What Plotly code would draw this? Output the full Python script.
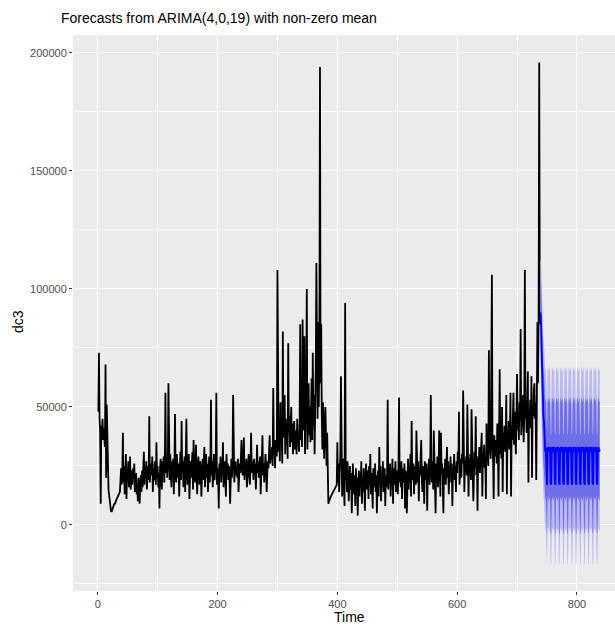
import plotly.graph_objects as go

# Observed series dc3 (values in thousands), t = 1..738
dc3_k = [
    48, 73, 45, 40, 9, 42, 38,
    45, 36, 41, 35, 33, 68, 20,
    51, 29, 27, 15, 12, 9, 7,
    6, 5.5, 6.5, 7, 7.5, 8.5, 9,
    9, 10, 10.5, 11, 12, 12, 12.5,
    13, 14, 19, 24, 17, 22, 39,
    18, 25, 13, 21, 30, 11, 24,
    19, 27, 16, 26, 29, 15, 20,
    23, 17, 24, 21, 26, 14, 19,
    22, 13, 16, 10, 20, 12, 9,
    18, 21, 14, 23, 16, 26, 31,
    17, 24, 20, 27, 15, 22, 25,
    19, 46, 18, 26, 23, 21, 29,
    14, 24, 19, 27, 22, 17, 35,
    20, 25, 16, 22, 7, 24, 28,
    21, 15, 27, 23, 29, 18, 26,
    56, 22, 29, 20, 25, 60, 24,
    19, 30, 23, 16, 27, 21, 28,
    13, 25, 47, 22, 18, 30, 24,
    20, 26, 12, 23, 31, 19, 44,
    22, 27, 16, 25, 29, 14, 24,
    45, 21, 17, 26, 30, 11, 23,
    27, 20, 24, 31, 15, 36, 22,
    18, 26, 34, 20, 13, 25, 29,
    22, 17, 27, 24, 12, 21, 28,
    19, 25, 33, 16, 23, 30, 20,
    26, 14, 22, 29, 18, 24, 53,
    21, 27, 16, 25, 30, 19, 23,
    28, 56, 17, 24, 21, 7, 26,
    22, 29, 18, 25, 23, 35, 16,
    24, 27, 20, 12, 30, 22, 26,
    19, 25, 21, 9, 23, 28, 20,
    26, 55, 22, 18, 24, 27, 21,
    25, 20, 28, 14, 23, 26, 22,
    29, 36, 24, 21, 27, 37, 19,
    25, 23, 28, 16, 22, 26, 30,
    21, 17, 24, 39, 25, 22, 27,
    19, 28, 23, 26, 15, 24, 34,
    22, 27, 20, 25, 29, 13, 24,
    28, 38, 21, 26, 18, 23, 30,
    25, 14, 22, 27, 24, 29, 38,
    26, 31, 28, 33, 25, 58, 30,
    34, 24, 36, 32, 29, 108, 38,
    31, 44, 27, 52, 35, 40, 26,
    82, 37, 42, 55, 30, 45, 36,
    41, 28, 77, 39, 46, 33, 40,
    50, 35, 43, 30, 38, 44, 32,
    40, 36, 30, 45, 34, 38, 31,
    42, 85, 36, 48, 33, 87, 40,
    52, 80, 30, 46, 58, 100, 32,
    44, 60, 38, 50, 35, 47, 62,
    36, 73, 42, 55, 30, 48, 68,
    111, 58, 45, 86, 50, 76, 194,
    60, 85, 47, 32, 52, 40, 28,
    45, 50, 38, 25, 39, 17, 9,
    10, 11, 11.5, 12, 12.5, 13, 13.5,
    14, 14.5, 15, 15.5, 16, 16, 17,
    35, 18, 26, 14, 22, 30, 63,
    20, 12, 24, 28, 16, 8, 94,
    19, 24, 14, 27, 21, 10, 18,
    25, 15, 22, 5, 19, 26, 13,
    21, 17, 8, 24, 15, 20, 4,
    18, 23, 12, 22, 16, 27, 9,
    20, 14, 24, 18, 6, 21, 26,
    15, 19, 23, 11, 25, 17, 30,
    13, 22, 18, 7, 24, 20, 16,
    26, 14, 21, 5, 19, 23, 12,
    33, 18, 25, 10, 22, 17, 27,
    14, 20, 24, 8, 21, 16, 19,
    53, 15, 23, 18, 26, 12, 22,
    20, 28, 9, 24, 17, 21, 27,
    14, 23, 19, 13, 25, 54, 18,
    22, 16, 27, 11, 24, 20, 18,
    26, 7, 23, 19, 5, 21, 28,
    15, 24, 20, 30, 12, 44, 22,
    19, 26, 13, 25, 21, 17, 40,
    23, 18, 27, 10, 24, 21, 29,
    36, 20, 14, 25, 22, 9, 27,
    23, 19, 26, 6, 24, 21, 28,
    17, 25, 55, 22, 18, 27, 15,
    40, 24, 21, 5, 26, 20, 29,
    16, 23, 40, 25, 12, 39, 22,
    26, 19, 5, 24, 21, 28, 17,
    25, 33, 20, 27, 13, 24, 22,
    29, 18, 26, 8, 23, 21, 30,
    19, 25, 14, 27, 22, 31, 26,
    48, 17, 24, 28, 20, 30, 26,
    57, 22, 14, 27, 25, 29, 21,
    51, 24, 12, 28, 23, 30, 19,
    49, 26, 22, 10, 27, 31, 24,
    46, 21, 28, 6, 29, 25, 33,
    22, 27, 31, 39, 12, 30, 26,
    34, 24, 29, 11, 43, 27, 32,
    25, 74, 30, 35, 28, 63, 106,
    33, 27, 11, 38, 31, 29, 36,
    26, 43, 34, 12, 40, 66, 30,
    37, 28, 50, 14, 39, 33, 42,
    31, 36, 55, 13, 40, 35, 44,
    32, 38, 56, 12, 42, 36, 46,
    56, 34, 48, 39, 30, 45, 64,
    40, 47, 36, 52, 44, 83, 38,
    49, 42, 55, 35, 47, 108, 45,
    50, 39, 58, 65, 18, 48, 44,
    53, 41, 63, 20, 51, 46, 57,
    60, 45, 52, 19, 62, 86, 60,
    88, 196, 85,
]

# Point forecast (thousands), 100 steps after the data
fc_mean_k = [
    90, 86, 75, 62, 50, 46, 44,
    32, 31, 33, 18, 17, 32, 33,
    31, 32, 33, 18, 17, 32, 33,
    31, 32, 33, 18, 17, 32, 33,
    31, 32, 33, 18, 17, 32, 33,
    31, 32, 33, 18, 17, 32, 33,
    31, 32, 33, 18, 17, 32, 33,
    31, 32, 33, 18, 17, 32, 33,
    31, 32, 33, 18, 17, 32, 33,
    31, 32, 33, 18, 17, 32, 33,
    31, 32, 33, 18, 17, 32, 33,
    31, 32, 33, 18, 17, 32, 33,
    31, 32, 33, 18, 17, 32, 33,
    31, 32, 33, 18, 17, 32, 33,
    31, 32,
]
# Half-widths of prediction intervals (thousands)
hw80_k = [14, 17, 19, 20, 20.5, 21, 21] + [21] * 93
hw95_k = [22, 26, 29, 31, 32, 33, 33.5] + [34] * 93

x_ticks = [0, 200, 400, 600, 800]
y_ticks = [0, 50000, 100000, 150000, 200000]
y_ticktext = ["0", "50000", "100000", "150000", "200000"]

n = len(dc3_k)
time = list(range(1, n + 1))
dc3 = [v * 1000 for v in dc3_k]
fc_time = list(range(n + 1, n + 1 + len(fc_mean_k)))
fc_mean = [v * 1000 for v in fc_mean_k]
lo80 = [(m - h) * 1000 for m, h in zip(fc_mean_k, hw80_k)]
hi80 = [(m + h) * 1000 for m, h in zip(fc_mean_k, hw80_k)]
lo95 = [(m - h) * 1000 for m, h in zip(fc_mean_k, hw95_k)]
hi95 = [(m + h) * 1000 for m, h in zip(fc_mean_k, hw95_k)]

FONT = "Liberation Sans, Arial, Helvetica, sans-serif"

fig = go.Figure()
fig.add_trace(go.Scatter(x=time, y=dc3, mode="lines",
                         line=dict(color="black", width=1.8), showlegend=False))
fig.add_trace(go.Scatter(x=fc_time, y=lo95, mode="lines", line=dict(width=0),
                         showlegend=False))
fig.add_trace(go.Scatter(x=fc_time, y=hi95, mode="lines", line=dict(width=0),
                         fill="tonexty", fillcolor="#B9B9F3", showlegend=False))
fig.add_trace(go.Scatter(x=fc_time, y=lo80, mode="lines", line=dict(width=0),
                         showlegend=False))
fig.add_trace(go.Scatter(x=fc_time, y=hi80, mode="lines", line=dict(width=0),
                         fill="tonexty", fillcolor="#6E6EE8", showlegend=False))
fig.add_trace(go.Scatter(x=fc_time, y=fc_mean, mode="lines",
                         line=dict(color="#0000FF", width=1.8), showlegend=False))

axis_common = dict(
    showgrid=True, gridcolor="white", gridwidth=1.1,
    zeroline=False, showline=False,
    ticks="outside", ticklen=3, tickwidth=1, tickcolor="#333333",
    tickfont=dict(family=FONT, size=11, color="#4D4D4D"),
)

fig.update_layout(
    width=615, height=624,
    margin=dict(l=73, r=0, t=35, b=33),
    paper_bgcolor="white", plot_bgcolor="#EBEBEB",
    title=dict(text="Forecasts from ARIMA(4,0,19) with non-zero mean",
               font=dict(family=FONT, size=14, color="black"),
               xref="container", x=61 / 615, xanchor="left",
               yref="container", y=1 - 18 / 624, yanchor="middle"),
    xaxis=dict(range=[-41.3, 863.5], tickvals=x_ticks,
               ticktext=[str(v) for v in x_ticks],
               minor=dict(dtick=100, tick0=0, showgrid=True,
                          gridcolor="white", gridwidth=0.5),
               **axis_common),
    yaxis=dict(range=[-28000, 207600], tickvals=y_ticks, ticktext=y_ticktext,
               minor=dict(dtick=25000, tick0=0, showgrid=True,
                          gridcolor="white", gridwidth=0.5),
               **axis_common),
    annotations=[
        dict(text="Time", xref="paper", yref="paper",
             x=(349 - 73) / 542, y=-26 / 556, xanchor="center", yanchor="middle",
             showarrow=False, font=dict(family=FONT, size=14, color="black")),
        dict(text="dc3", xref="paper", yref="paper", textangle=-90,
             x=(18 - 73) / 542, y=(591 - 322) / 556, xanchor="center", yanchor="middle",
             showarrow=False, font=dict(family=FONT, size=14, color="black")),
    ],
    hovermode=False,
)

fig.write_html("out.html")
